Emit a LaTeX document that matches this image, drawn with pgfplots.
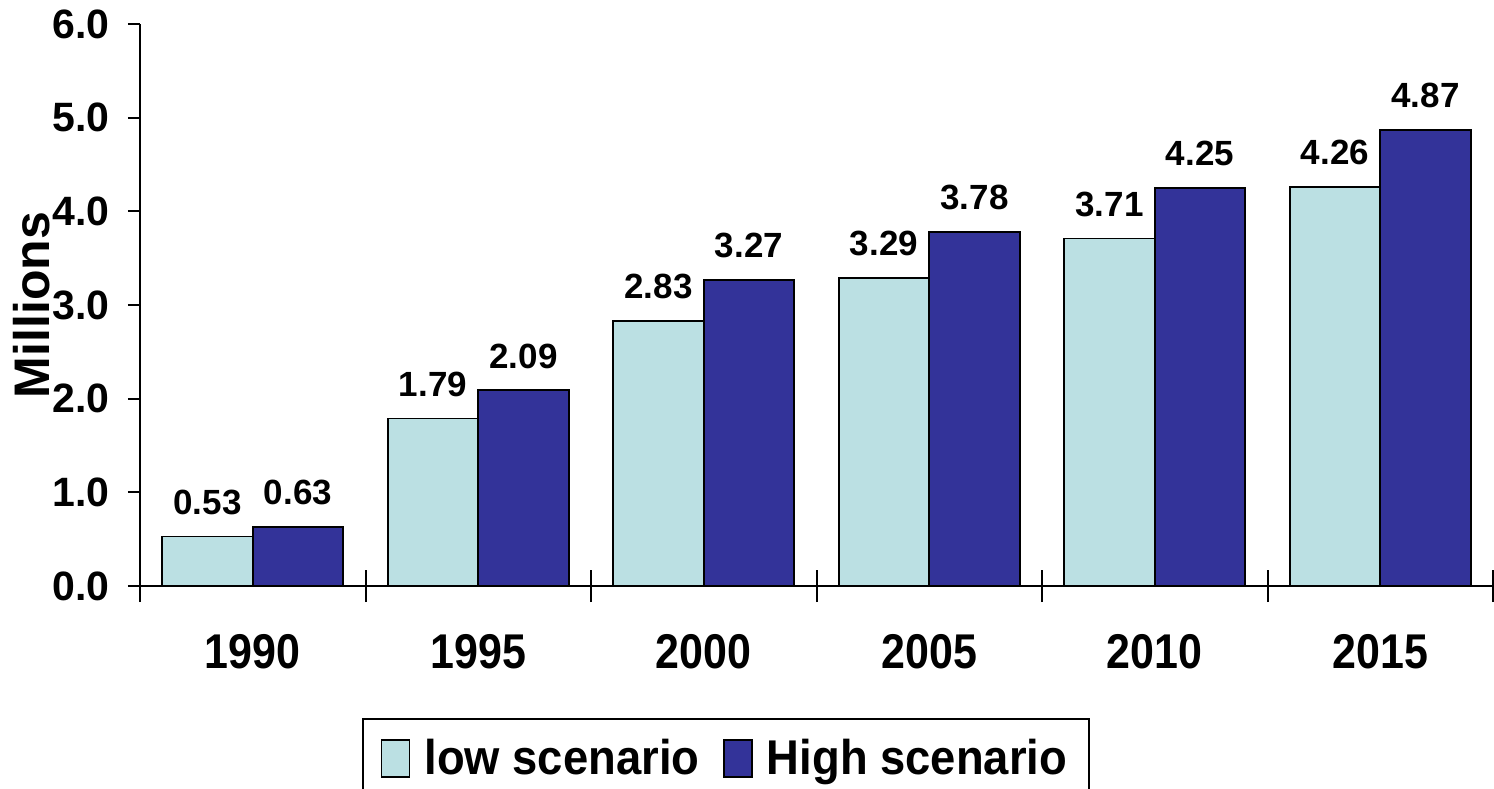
\documentclass[border=0pt]{standalone}
\usepackage{pgfplots}
\pgfplotsset{compat=1.18}
\usepackage{fontspec}
\setmainfont{Liberation Sans}
\newfontfamily\xcond[FakeStretch=0.88]{Liberation Sans}
\newfontfamily\lcond[FakeStretch=0.93]{Liberation Sans}
\definecolor{lowc}{RGB}{187,224,227}
\definecolor{highc}{RGB}{51,51,153}
\begin{document}
\begin{tikzpicture}
\useasboundingbox (0,0) rectangle (747pt,394pt);
\begin{axis}[
  at={(70pt,101pt)}, anchor=south west,
  scale only axis, width=676.5pt, height=281pt,
  xmin=-0.5, xmax=5.5, ymin=0, ymax=6,
  axis x line=bottom, axis y line=left,
  axis line style={-, line width=1pt},
  ybar=0pt, bar width=45.25pt,
  /pgf/number format/assume math mode=true,
  ytick={0,1,...,6},
  yticklabel style={/pgf/number format/fixed, /pgf/number format/fixed zerofill, /pgf/number format/precision=1},
  y tick label style={font=\fontsize{20.5}{24}\selectfont\bfseries, anchor=east, inner sep=0pt, xshift=-9pt},
  ytick style={line width=1pt, black},
  major tick length=6pt, tick align=outside,
  xtick={0,1,2,3,4,5},
  xticklabels={1990,1995,2000,2005,2010,2015},
  x tick label style={font=\xcond\fontsize{24.4}{28}\selectfont\bfseries, anchor=north, inner sep=0pt, yshift=-18pt},
  xtick style={draw=none},
  extra x ticks={-0.5,0.5,1.5,2.5,3.5,4.5,5.5},
  extra x tick labels={},
  extra x tick style={xtick style={draw=black, line width=1pt}, major tick length=16pt, tick align=center},
  ylabel={Millions},
  ylabel style={at={(axis description cs:-0.0798,0.5)}, anchor=center, font=\fontsize{25}{30}\selectfont\bfseries},
  nodes near coords={\pgfmathprintnumber[fixed, fixed zerofill, precision=2]{\pgfplotspointmeta}},
  nodes near coords style={font=\fontsize{17.5}{20}\selectfont\bfseries, anchor=south, inner sep=0pt, yshift=10.5pt, black},
  legend columns=2,
  legend style={at={(0.4331,-0.2349)}, anchor=north, draw=black, line width=1pt,
    font=\lcond\fontsize{24.4}{28}\selectfont\bfseries, inner xsep=9pt, inner ysep=8pt,
    /tikz/every even column/.append style={column sep=10pt},
    /tikz/every odd column/.append style={column sep=5pt}},
  legend image code/.code={\draw[#1, line width=0.8pt] (0pt,-9.5pt) rectangle (14pt,9pt);},
]
\addplot[draw=black, line width=0.8pt, fill=lowc] coordinates {(0,0.53) (1,1.79) (2,2.83) (3,3.29) (4,3.71) (5,4.26)};
\addplot[draw=black, line width=0.8pt, fill=highc] coordinates {(0,0.63) (1,2.09) (2,3.27) (3,3.78) (4,4.25) (5,4.87)};
\addlegendentry{low scenario}
\addlegendentry{High scenario}
\end{axis}
\end{tikzpicture}
\end{document}
